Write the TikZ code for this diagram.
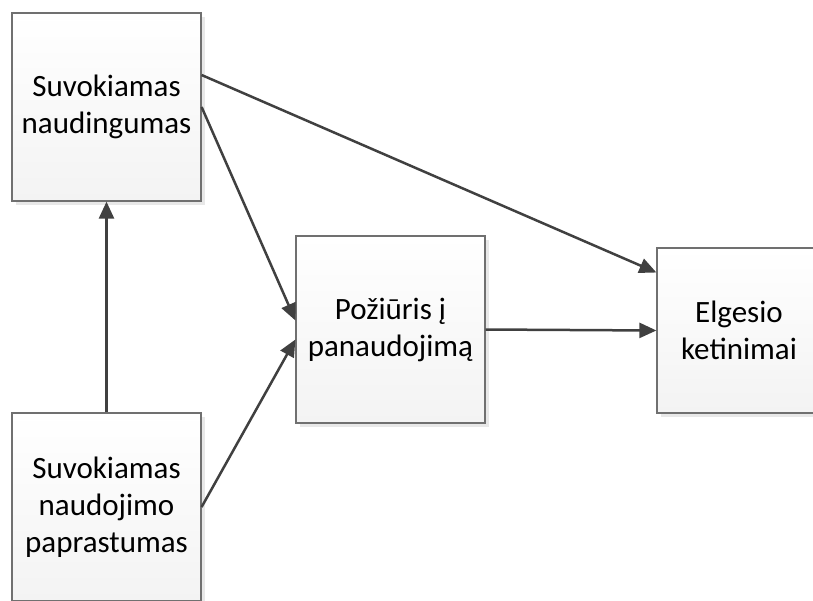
\documentclass[tikz,border=0pt]{standalone}
\usepackage{fontspec}
\setmainfont{Carlito}
\usepackage{tikz}
\usetikzlibrary{arrows.meta,positioning,shadows}
\definecolor{boxline}{RGB}{112,112,112}
\definecolor{arrowline}{RGB}{64,64,64}
\definecolor{boxbottom}{RGB}{243,243,243}

\begin{document}
\begin{tikzpicture}[
    x=1pt, y=-1pt,
    factor/.style={draw=boxline, line width=1.2pt, rectangle, minimum width=189pt, minimum height=188pt,
        align=center, top color=white, bottom color=boxbottom, inner sep=0pt,
        font=\fontsize{31}{37}\selectfont,
        drop shadow={shadow xshift=4pt, shadow yshift=-4pt, opacity=0.18, fill=gray}},
    link/.style={draw=arrowline, line width=2.5pt, -{Triangle[length=17pt,width=15pt]}}
]
    \useasboundingbox (0,0) rectangle (813,600);

    % Model factors
    \node[factor] (useful) at (106.5,107) {Suvokiamas\\naudingumas};
    \node[factor] (ease) at (106.5,507) {Suvokiamas\\naudojimo\\paprastumas};
    \node[factor, minimum height=187pt] (attitude) at (390.5,329.5) {Požiūris į\\panaudojimą};
    \node[factor, minimum width=164pt, minimum height=165pt] (intent) at (739,330.5) {Elgesio\\ketinimai};

    % Connections
    \draw[link] (ease) -- (useful);
    \draw[link] ([yshift=32pt]useful.east) -- ([yshift=58pt]intent.west);
    \draw[link] (useful.east) -- ([yshift=9pt]attitude.west);
    \draw[link] (ease.east) -- ([yshift=-10pt]attitude.west);
    \draw[link] (attitude.east) -- (intent.west);

\end{tikzpicture}
\end{document}
